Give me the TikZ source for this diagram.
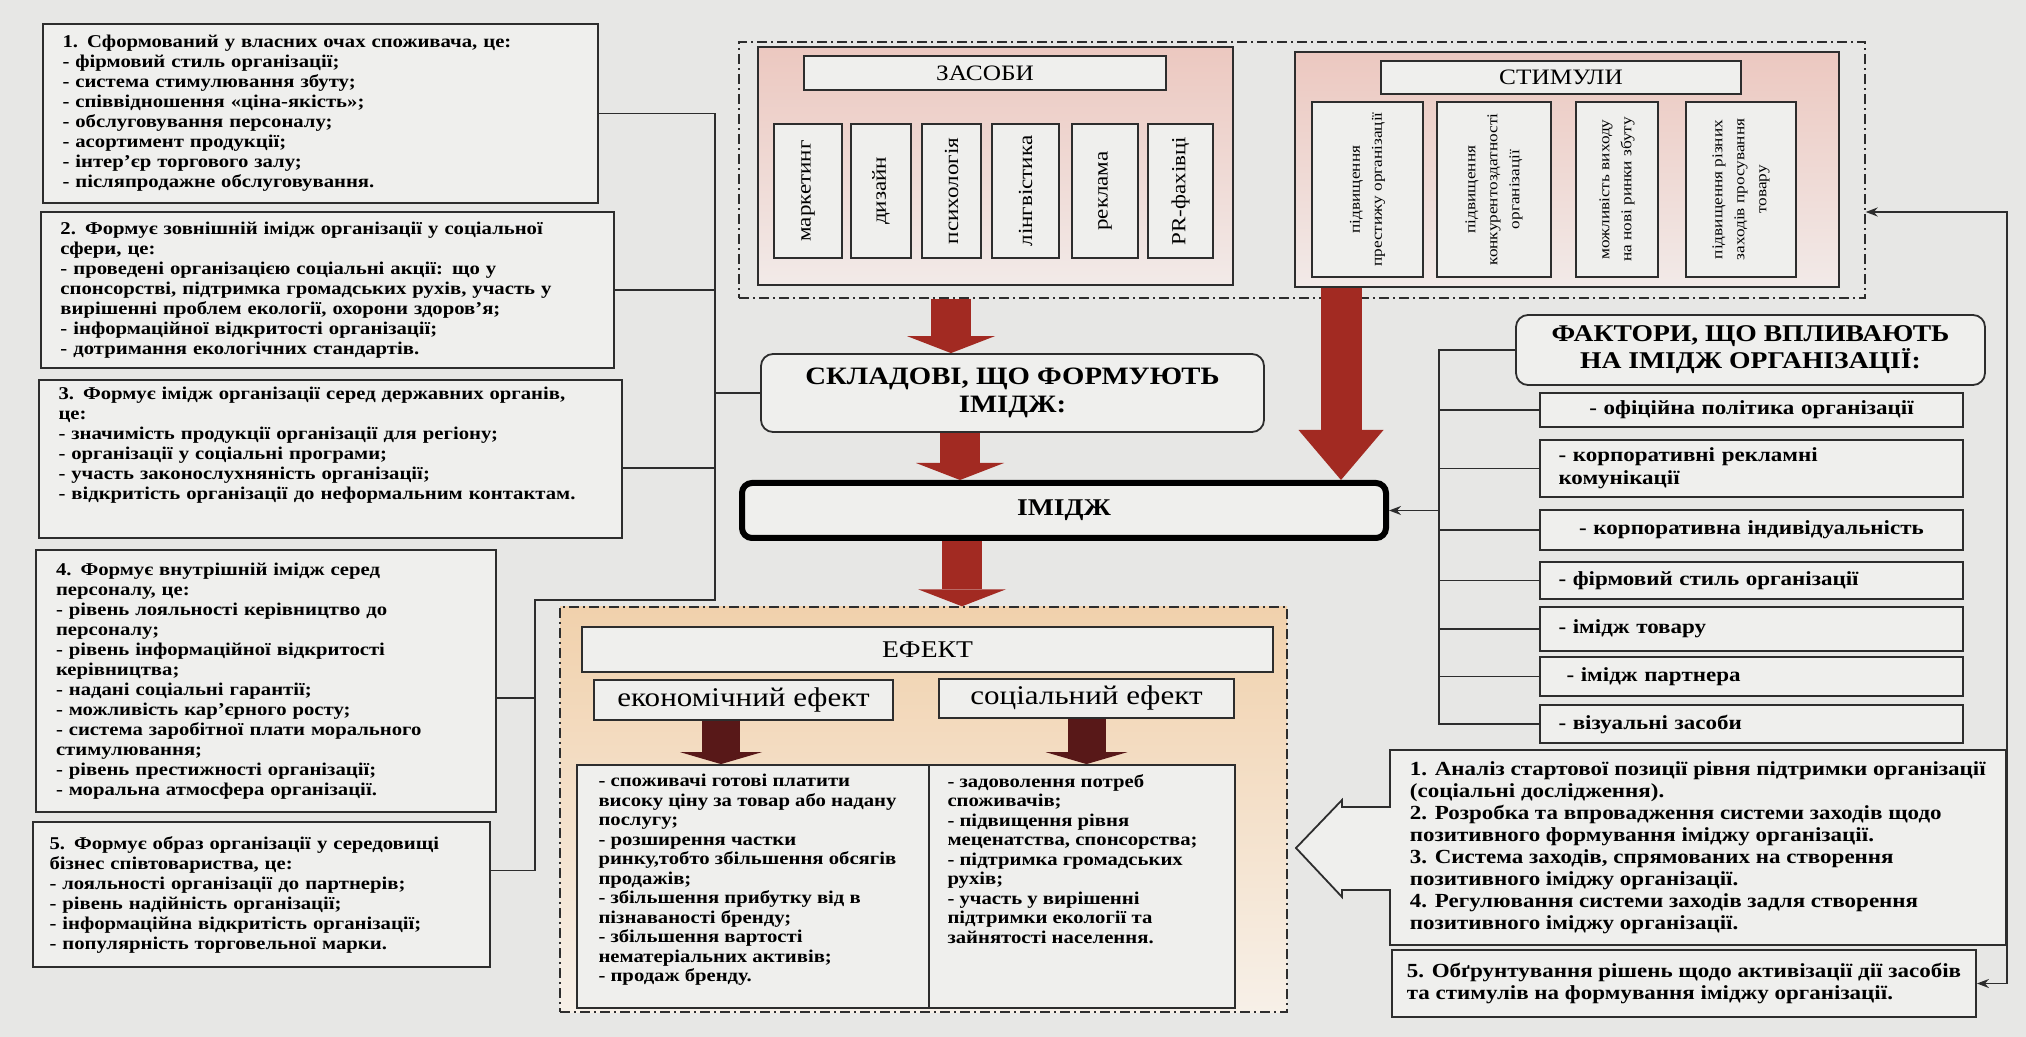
\documentclass[tikz,border=0pt]{standalone}
\usepackage{fontspec}
\setmainfont[FakeStretch=1.15]{Liberation Serif}
\usetikzlibrary{arrows.meta, positioning, calc}
\setlength{\parindent}{0pt}
\definecolor{bgc}{RGB}{231,231,229}
\definecolor{boxc}{RGB}{239,239,237}
\definecolor{linec}{RGB}{45,45,45}
\definecolor{pinktop}{RGB}{236,200,192}
\definecolor{pinkbot}{RGB}{242,234,232}
\definecolor{peachtop}{RGB}{241,209,172}
\definecolor{peachbot}{RGB}{247,240,232}
\definecolor{redarr}{RGB}{162,42,34}
\definecolor{darkarr}{RGB}{88,24,24}
\newcommand{\spreadline}[1]{\makebox[\hsize][s]{#1}}
\tikzset{%
	infobox/.style={draw=linec, line width=0.9pt, fill=boxc, align=left,
		inner xsep=9.5pt, inner ysep=3pt, font=\fontsize{9}{10}\selectfont\bfseries},
	dashframe/.style={draw=linec, line width=0.7pt, dash pattern=on 5pt off 2pt on 1pt off 2pt},
	pinkbox/.style={draw=linec, line width=0.9pt, top color=pinktop, bottom color=pinkbot},
	titlebox/.style={draw=linec, line width=0.9pt, fill=boxc, inner sep=0pt, font=\fontsize{11}{12}\selectfont},
	toolbox/.style={draw=linec, line width=0.9pt, fill=boxc, inner sep=1pt, rotate=90,
		align=center, font=\fontsize{10}{11}\selectfont},
	stimbox/.style={toolbox, font=\fontsize{7.5}{11}\selectfont},
	headbox/.style={draw=linec, line width=0.9pt, fill=boxc, rounded corners=6pt, align=center,
		inner sep=0pt, font=\fontsize{12.5}{14}\selectfont\bfseries},
	factor/.style={draw=linec, line width=0.9pt, fill=boxc, align=left, text width=193pt,
		inner xsep=9pt, inner ysep=0pt, minimum width=211.5pt, font=\fontsize{10}{11.5}\selectfont\bfseries},
	cell/.style={draw=linec, line width=0.9pt, fill=boxc},
	celltext/.style={align=left, inner sep=0pt, font=\fontsize{9}{9.75}\selectfont\bfseries},
	planbox/.style={draw=linec, line width=0.9pt, fill=boxc, align=left, inner sep=0pt,
		font=\fontsize{10}{11}\selectfont\bfseries},
	conn/.style={draw=linec, line width=0.8pt},
	feed/.style={conn, -{Stealth[length=6pt,width=4.5pt]}},
	bigarrow/.style={draw=redarr, line width=20pt, -{Triangle[width=44pt,length=8.5pt,line width=0pt]}},
	longarrow/.style={draw=redarr, line width=20.5pt, -{Triangle[width=42.5pt,length=25pt,line width=0pt]}},
	darkarrow/.style={draw=darkarr, line width=19pt, -{Triangle[width=41pt,length=6pt,line width=0pt]}}
}

\begin{document}
\begin{tikzpicture}[x=0.5pt, y=-0.5pt]
	\useasboundingbox (0,0) rectangle (2026,1037);
	\fill[bgc] (0,0) rectangle (2026,1037);

	\node[infobox, text width=258pt, minimum width=277.5pt, minimum height=89.5pt] (L1) at (320.5,113.5)
		{1. Сформований у власних очах споживача, це:\\- фірмовий стиль організації;\\
		- система стимулювання збуту;\\- співвідношення «ціна-якість»;\\- обслуговування персоналу;\\
		- асортимент продукції;\\- інтер'єр торгового залу;\\- післяпродажне обслуговування.};
	\node[infobox, text width=267pt, minimum width=286.5pt, minimum height=78pt] (L2) at (327.5,290)
		{\spreadline{2. Формує зовнішній імідж організації у соціальної}\\сфери, це:\\
		\spreadline{- проведені організацією соціальні акції: що у}\\
		\spreadline{спонсорстві, підтримка громадських рухів, участь у}\\
		вирішенні проблем екології, охорони здоров'я;\\- інформаційної відкритості організації;\\
		- дотримання екологічних стандартів.};
	\node[infobox, text width=272pt, minimum width=291.5pt, minimum height=79pt] (L3) at (330.5,459)
		{\spreadline{3. Формує імідж організації серед державних органів,}\\це:\\
		- значимість продукції організації для регіону;\\- організації у соціальні програми;\\
		- участь законослухняність організації;\\- відкритість організації до неформальним контактам.\\[6pt]\mbox{}};
	\node[infobox, text width=210pt, minimum width=230pt, minimum height=131pt] (L4) at (266,681)
		{\spreadline{4. Формує внутрішній імідж серед}\\персоналу, це:\\
		\spreadline{- рівень лояльності керівництво до}\\персоналу;\\
		\spreadline{- рівень інформаційної відкритості}\\керівництва;\\
		- надані соціальні гарантії;\\- можливість кар'єрного росту;\\
		\spreadline{- система заробітної плати морального}\\стимулювання;\\
		- рівень престижності організації;\\- моральна атмосфера організації.};
	\node[infobox, text width=212pt, inner xsep=8pt, minimum width=228.5pt, minimum height=72.5pt] (L5) at (261.5,894.5)
		{5. Формує образ організації у середовищі\\бізнес співтовариства, це:\\
		- лояльності організації до партнерів;\\- рівень надійність організації;\\
		- інформаційна відкритість організації;\\- популярність торговельної марки.};

	\node[dashframe, minimum width=563pt, minimum height=128pt] (meansOuter) at (1302,170) {};
	\node[pinkbox, minimum width=237.5pt, minimum height=119pt] (zasoby) at (995.5,166) {};
	\node[titlebox, minimum width=181pt, minimum height=17pt] (zasobyT) at (985,73) {ЗАСОБИ};
	\node[toolbox, minimum width=67pt, minimum height=34pt] (z1) at (808,191) {маркетинг};
	\node[toolbox, minimum width=67pt, minimum height=30pt] (z2) at (881,191) {дизайн};
	\node[toolbox, minimum width=67pt, minimum height=29.5pt] (z3) at (951.5,191) {психологія};
	\node[toolbox, minimum width=67pt, minimum height=33.5pt] (z4) at (1025.5,191) {лінгвістика};
	\node[toolbox, minimum width=67pt, minimum height=33pt] (z5) at (1105,191) {реклама};
	\node[toolbox, minimum width=67pt, minimum height=32.5pt] (z6) at (1180.5,191) {PR-фахівці};

	\node[pinkbox, minimum width=272pt, minimum height=117.5pt] (stimuly) at (1567,169.5) {};
	\node[titlebox, minimum width=180pt, minimum height=16.5pt] (stimulyT) at (1561,77.5) {СТИМУЛИ};
	\node[stimbox, minimum width=87.5pt, minimum height=55.5pt] (s1) at (1367.5,189.5) {підвищення\\престижу організації};
	\node[stimbox, minimum width=87.5pt, minimum height=57pt] (s2) at (1494,189.5) {підвищення\\конкурентоздатності\\організації};
	\node[stimbox, minimum width=87.5pt, minimum height=41pt] (s3) at (1617,189.5) {можливість виходу\\на нові ринки збуту};
	\node[stimbox, minimum width=87.5pt, minimum height=55pt] (s4) at (1741,189.5) {підвищення різних\\заходів просування\\товару};

	\node[headbox, minimum width=251.5pt, minimum height=39pt] (sklad) at (1012.5,393) {СКЛАДОВІ, ЩО ФОРМУЮТЬ\\ІМІДЖ:};
	\node[draw=black, line width=3pt, fill=boxc, rounded corners=5pt, minimum width=322pt, minimum height=27.5pt,
		font=\fontsize{12}{14}\selectfont\bfseries] (imidzh) at (1064,510.5) {ІМІДЖ};

	\node[headbox, minimum width=234.5pt, minimum height=35pt, font=\fontsize{12}{12.5}\selectfont\bfseries] (fakt) at (1750.5,350)
		{ФАКТОРИ, ЩО ВПЛИВАЮТЬ\\НА ІМІДЖ ОРГАНІЗАЦІЇ:};
	\node[factor, align=center, minimum height=17pt] (f1) at (1751.5,410) {- офіційна політика організації};
	\node[factor, minimum height=28.5pt] (f2) at (1751.5,468.5) {- корпоративні рекламні\\комунікації};
	\node[factor, align=center, minimum height=20pt] (f3) at (1751.5,530) {- корпоративна індивідуальність};
	\node[factor, minimum height=18.5pt] (f4) at (1751.5,580.5) {- фірмовий стиль організації};
	\node[factor, minimum height=22pt] (f5) at (1751.5,629) {- імідж товару};
	\node[factor, minimum height=19.5pt] (f6) at (1751.5,676.5) {\hspace{4pt}- імідж партнера};
	\node[factor, minimum height=19pt] (f7) at (1751.5,724) {- візуальні засоби};

	\node[dashframe, top color=peachtop, bottom color=peachbot, minimum width=363.5pt, minimum height=202.5pt] (effect) at (923.5,809.5) {};
	\node[titlebox, font=\fontsize{12}{13}\selectfont, minimum width=345.5pt, minimum height=22.5pt] (effT) at (927.5,649.5) {ЕФЕКТ};
	\node[titlebox, font=\fontsize{13.5}{14}\selectfont, minimum width=149.5pt, minimum height=20pt] (eco) at (743.5,700) {економічний ефект};
	\node[titlebox, font=\fontsize{13.5}{14}\selectfont, minimum width=147.5pt, minimum height=19.5pt] (soc) at (1086.5,698.5) {соціальний ефект};
	\node[cell, minimum width=176pt, minimum height=121.5pt] (ecoC) at (753,886.5) {};
	\node[cell, minimum width=153pt, minimum height=121.5pt] (socC) at (1082,886.5) {};
	\node[celltext, anchor=north west] (ecoT) at ($(ecoC.north west)+(22,10)$)
		{- споживачі готові платити\\високу ціну за товар або надану\\послугу;\\- розширення частки\\
		ринку,тобто збільшення обсягів\\продажів;\\- збільшення прибутку від в\\пізнаваності бренду;\\
		- збільшення вартості\\нематеріальних активів;\\- продаж бренду.};
	\node[celltext, anchor=north west] (socT) at ($(socC.north west)+(19,10)$)
		{- задоволення потреб\\споживачів;\\- підвищення рівня\\меценатства, спонсорства;\\
		- підтримка громадських\\рухів;\\- участь у вирішенні\\підтримки екології та\\зайнятості населення.};

	\coordinate (planNW) at (1390,750);
	\coordinate (planSE) at (2006,945);
	\filldraw[draw=linec, line width=0.9pt, fill=boxc] (planNW) -- (planNW -| planSE) -- (planSE) -- (planSE -| planNW)
		-- ++(0,-55) -- ++(-48,0) -- ++(0,7) -- (1296,848) -- (1342,800) -- ++(0,7) -- (1390,807) -- cycle;
	\node[planbox, draw=none, fill=none, anchor=west] (plan) at ($(planNW)!0.5!(planSE -| planNW)+(19,0)$)
		{1. Аналіз стартової позиції рівня підтримки організації\\(соціальні дослідження).\\
		2. Розробка та впровадження системи заходів щодо\\позитивного формування іміджу організації.\\
		3. Система заходів, спрямованих на створення\\позитивного іміджу організації.\\
		4. Регулювання системи заходів задля створення\\позитивного іміджу організації.};
	\node[planbox, minimum width=292pt, minimum height=33.5pt] (box5) at (1684,983.5)
		{5. Обґрунтування рішень щодо активізації дії засобів\\та стимулів на формування іміджу організації.};

	\coordinate (lbus) at (715,600);
	\coordinate (lbus2) at (535,600);
	\coordinate (l3c) at ([yshift=-4.5pt]L3.east);
	\coordinate (l4c) at ([yshift=-8.5pt]L4.east);
	\coordinate (l5c) at ([yshift=12pt]L5.east);
	\draw[conn] (L1.east) -| (lbus) -- (lbus2) |- (l5c);
	\draw[conn] (L2.east) -- (L2.east -| lbus);
	\draw[conn] (sklad.west) -- (sklad.west -| lbus);
	\draw[conn] (l3c) -- (l3c -| lbus);
	\draw[conn] (l4c) -- (l4c -| lbus2);

	\coordinate (fbus) at (1439,0);
	\draw[conn] (fakt.west) -| (f7.west -| fbus) -- (f7.west);
	\draw[conn] (f1.west) -- (f1.west -| fbus);
	\draw[conn] (f2.west) -- (f2.west -| fbus);
	\draw[conn] (f3.west) -- (f3.west -| fbus);
	\draw[conn] (f4.west) -- (f4.west -| fbus);
	\draw[conn] (f5.west) -- (f5.west -| fbus);
	\draw[conn] (f6.west) -- (f6.west -| fbus);
	\draw[feed] (imidzh.east -| fbus) -- (imidzh.east);

	\coordinate (rbus) at (2007,212);
	\draw[conn, {Stealth[length=6pt,width=4.5pt]}-{Stealth[length=6pt,width=4.5pt]}]
		(box5.east) -| (rbus) -- (meansOuter.east |- rbus);

	\coordinate (arrA) at (951,0);
	\coordinate (arrB) at (960,0);
	\coordinate (arrC) at (962,0);
	\coordinate (arrD) at (1341,0);
	\coordinate (ecoA) at (721,0);
	\draw[bigarrow]  (meansOuter.south -| arrA) -- (sklad.north -| arrA);
	\draw[bigarrow]  (sklad.south -| arrB) -- (imidzh.north -| arrB);
	\draw[bigarrow]  (imidzh.south -| arrC) -- (effect.north -| arrC);
	\draw[longarrow] (stimuly.south -| arrD) -- (imidzh.north -| arrD);
	\draw[darkarrow] (eco.south -| ecoA) -- (ecoC.north -| ecoA);
	\draw[darkarrow] (soc.south) -- (soc.south |- socC.north);

\end{tikzpicture}
\end{document}
